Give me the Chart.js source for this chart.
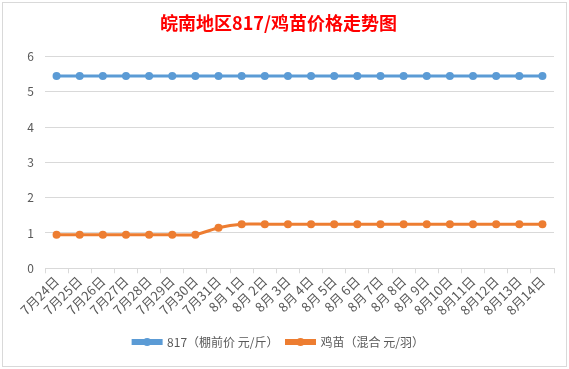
<!DOCTYPE html>
<html>
<head>
<meta charset="utf-8">
<script src="https://cdn.jsdelivr.net/npm/chart.js@4"></script>
<style>
  body { margin: 0; background: #fff; }
  #box { position: absolute; left: 2px; top: 2px; width: 563px; height: 363px; border: 1px solid #d9d9d9; }
</style>
</head>
<body>
<div id="box"><canvas id="myChart" width="563" height="363"></canvas></div>
<script>
// x-axis labels
var days = ['7月24日','7月25日','7月26日','7月27日','7月28日','7月29日','7月30日','7月31日',
  '8月 1日','8月 2日','8月 3日','8月 4日','8月 5日','8月 6日','8月 7日','8月 8日','8月 9日',
  '8月10日','8月11日','8月12日','8月13日','8月14日'];
// 817 price
var price817 = [5.45,5.45,5.45,5.45,5.45,5.45,5.45,5.45,5.45,5.45,5.45,5.45,5.45,5.45,5.45,5.45,5.45,5.45,5.45,5.45,5.45,5.45];
// chick price
var chick = [0.95,0.95,0.95,0.95,0.95,0.95,0.95,1.15,1.25,1.25,1.25,1.25,1.25,1.25,1.25,1.25,1.25,1.25,1.25,1.25,1.25,1.25];

var font = "'Noto Sans CJK SC', 'Noto Sans', sans-serif";

// draws a dot in the middle of each legend line
var legendDots = {
  id: 'legendDots',
  afterDraw: function(chart) {
    var lg = chart.legend;
    if (!lg || !lg.legendHitBoxes) return;
    var c = chart.ctx;
    lg.legendHitBoxes.forEach(function(b, i) {
      var ds = chart.data.datasets[i];
      c.save();
      c.fillStyle = ds.borderColor;
      c.beginPath();
      c.arc(b.left + 14, b.top + b.height / 2, 4, 0, Math.PI * 2);
      c.fill();
      c.restore();
    });
  }
};

var ctx = document.getElementById('myChart');
var myChart = new Chart(ctx, {
  type: 'line',
  data: {
    labels: days,
    datasets: [
      {
        data: price817,
        label: '817（棚前价 元/斤）',
        fill: false,
        borderColor: '#5b9bd5',
        backgroundColor: '#5b9bd5',
        borderWidth: 3,
        pointRadius: 4,
        pointBackgroundColor: '#5b9bd5',
        pointBorderWidth: 0,
        tension: 0.2
      },
      {
        data: chick,
        label: '鸡苗（混合 元/羽）',
        fill: false,
        borderColor: '#ed7d31',
        backgroundColor: '#ed7d31',
        borderWidth: 3,
        pointRadius: 4,
        pointBackgroundColor: '#ed7d31',
        pointBorderWidth: 0,
        tension: 0.2
      }
    ]
  },
  plugins: [legendDots],
  options: {
    responsive: false,
    animation: false,
    layout: { padding: { left: 0, right: 12, top: 0, bottom: 8 } },
    plugins: {
      title: {
        display: true,
        text: '皖南地区817/鸡苗价格走势图',
        color: '#ff0000',
        font: { family: font, size: 18, weight: 'bold' },
        padding: { top: 9, bottom: 23 }
      },
      legend: {
        position: 'bottom',
        labels: {
          color: '#595959',
          font: { family: font, size: 12 },
          boxWidth: 28,
          boxHeight: 3,
          padding: 8
        }
      },
      tooltip: { enabled: false }
    },
    scales: {
      x: {
        offset: true,
        afterFit: function(s) { s.height += 10; },
        grid: { offset: true, drawOnChartArea: false, color: '#d9d9d9', tickLength: 5 },
        border: { color: '#d9d9d9' },
        ticks: {
          color: '#595959',
          font: { family: font, size: 13 },
          minRotation: 45,
          maxRotation: 45,
          autoSkip: false,
          padding: 0
        }
      },
      y: {
        min: 0,
        max: 6,
        afterFit: function(s) { s.width = 42; },
        grid: { color: '#d9d9d9', drawTicks: false },
        border: { display: false },
        ticks: {
          stepSize: 1,
          color: '#595959',
          font: { family: font, size: 12 },
          padding: 11
        }
      }
    }
  }
});
</script>
</body>
</html>
